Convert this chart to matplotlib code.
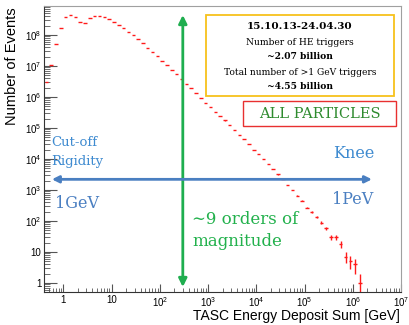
import numpy as np
import matplotlib
matplotlib.use("Agg")
import matplotlib.pyplot as plt
from matplotlib.ticker import LogLocator, FixedLocator, FuncFormatter, NullFormatter
from matplotlib.patches import Rectangle

plt.rcParams["font.family"] = ["Liberation Sans", "DejaVu Sans"]
plt.rcParams["mathtext.fontset"] = "custom"
plt.rcParams["mathtext.rm"] = "Liberation Sans"
plt.rcParams["mathtext.it"] = "Liberation Sans:italic"

# ── Histogram: 0.1-decade bins from 10^-0.4 to 10^6.2 GeV ─────────────────────
bin_edges = np.logspace(-0.4, 6.2, 67)
counts = [
    3.1e6, 1.07e7, 5.1e7, 1.74e8, 3.7e8, 4.5e8, 3.7e8, 2.6e8, 2.45e8, 3.5e8,
    4.2e8, 4.2e8, 3.8e8, 3.3e8, 2.7e8, 2.1e8, 1.7e8, 1.29e8, 9.8e7, 7.2e7,
    5.4e7, 3.9e7, 2.8e7, 2.1e7, 1.5e7, 1.05e7, 7.4e6, 5.5e6, 3.7e6, 2.7e6,
    1.9e6, 1.35e6, 9.3e5, 6.6e5, 4.6e5, 3.3e5, 2.45e5, 1.74e5, 1.23e5, 8.7e4,
    6.0e4, 4.4e4, 3.0e4, 2.0e4, 1.45e4, 1.0e4, 6900, 4800, 3200, 2240,
    1450, 1000, 650, 450, 270, 190, 132, 89, 58, 30,
    30, 18, 7, 5, 4, 1,
]
x_majors = [1, 1e1, 1e2, 1e3, 1e4, 1e5, 1e6, 1e7]
y_majors = [1, 1e1, 1e2, 1e3, 1e4, 1e5, 1e6, 1e7, 1e8]

# annotation anchors (data units)
orders_x = 300          # GeV, vertical "~9 orders" arrow
orders_y = (4.4e8, 0.74)
range_y = 2200          # events, horizontal 1GeV-1PeV arrow
range_x = (0.58, 2.5e6)

counts = np.array(counts)
log_edges = np.log10(bin_edges)
log_c = 0.5 * (log_edges[:-1] + log_edges[1:])
half = 0.5 * (log_edges[1] - log_edges[0]) * 0.72
xc = 10 ** log_c
xlo = xc - 10 ** (log_c - half)
xhi = 10 ** (log_c + half) - xc
yerr = np.sqrt(counts)
ylo = np.minimum(yerr, counts - 1e-3)

fig = plt.figure(figsize=(4.09, 3.25), dpi=100)
ax = fig.add_axes([44 / 409, 1 - 292 / 325, 357 / 409, 286 / 325])

ax.errorbar(xc, counts, xerr=[xlo, xhi], yerr=[ylo, yerr], fmt="none",
            ecolor="#ff1a1a", elinewidth=1.0, capsize=0)

ax.set_xscale("log")
ax.set_yscale("log")
ax.set_xlim(10 ** -0.4, 1e7)
ax.set_ylim(0.51, 8.6e8)


def root_fmt(v, pos):
    e = int(round(np.log10(v)))
    if e == 0:
        return "1"
    if e == 1:
        return "10"
    return r"$10^{%d}$" % e


for axis, majors in ((ax.xaxis, x_majors), (ax.yaxis, y_majors)):
    axis.set_major_locator(FixedLocator(majors))
    axis.set_minor_locator(LogLocator(base=10, subs=np.arange(2, 10), numticks=20))
    axis.set_major_formatter(FuncFormatter(root_fmt))
    axis.set_minor_formatter(NullFormatter())

ax.tick_params(which="both", direction="in", colors="#555555", labelcolor="black",
               labelsize=7, top=False, right=False)
ax.tick_params(axis="y", which="major", length=9, pad=2)
ax.tick_params(axis="y", which="minor", length=4)
ax.tick_params(axis="x", which="major", length=6, pad=2)
ax.tick_params(axis="x", which="minor", length=3)

for s in ("top", "right"):
    ax.spines[s].set_color("#a0a0a0")
for s in ("left", "bottom"):
    ax.spines[s].set_color("#333333")

fig.text(12 / 409, 1 - 7 / 325, "Number of Events", rotation=90,
         ha="center", va="top", fontsize=10.5)
fig.text(400 / 409, 1 - 316 / 325, "TASC Energy Deposit Sum [GeV]",
         ha="right", va="center", fontsize=10)

# arrows
green = "#1fae4f"
blue = "#4a7fc1"
ax.annotate("", xy=(orders_x, orders_y[0]), xytext=(orders_x, orders_y[1]),
            arrowprops=dict(arrowstyle="<|-|>", color=green, lw=2,
                            mutation_scale=12, shrinkA=0, shrinkB=0))
ax.annotate("", xy=(range_x[0], range_y), xytext=(range_x[1], range_y),
            arrowprops=dict(arrowstyle="<|-|>", color=blue, lw=2,
                            mutation_scale=10, shrinkA=0, shrinkB=0))

serif = ["DejaVu Serif", "DejaVu Sans"]
lblue = "#3f8bd0"
ax.text(0.02, 0.521, "Cut-off", transform=ax.transAxes, family=serif,
        fontsize=9.5, color=lblue, va="center")
ax.text(0.02, 0.455, "Rigidity", transform=ax.transAxes, family=serif,
        fontsize=9.5, color=lblue, va="center")
ax.text(0.031, 0.308, "1GeV", transform=ax.transAxes, family=serif,
        fontsize=11.5, color=blue, va="center")
ax.text(0.81, 0.486, "Knee", transform=ax.transAxes, family=serif,
        fontsize=11.5, color=lblue, va="center")
ax.text(0.807, 0.325, "1PeV", transform=ax.transAxes, family=serif,
        fontsize=11.5, color=blue, va="center")
ax.text(0.415, 0.255, "\u223c9 orders of", transform=ax.transAxes, family=serif,
        fontsize=12, color="#22b14c", va="center")
ax.text(0.415, 0.178, "magnitude", transform=ax.transAxes, family=serif,
        fontsize=12, color="#22b14c", va="center")

# info box
ax.add_patch(Rectangle((0.454, 0.685), 0.526, 0.2835, transform=ax.transAxes,
                       facecolor="white", edgecolor="#f7c21b", lw=1.3, zorder=5))
box_lines = [("15.10.13-24.04.30", 0.930, "bold", 7.5),
             ("Number of HE triggers", 0.874, "normal", 6.6),
             ("~2.07 billion", 0.822, "bold", 6.6),
             ("Total number of >1 GeV triggers", 0.769, "normal", 6.6),
             ("~4.55 billion", 0.717, "bold", 6.6)]
for txt, yy, wt, fs in box_lines:
    ax.text(0.717, yy, txt, transform=ax.transAxes, family=serif, fontsize=fs,
            fontweight=wt, ha="center", va="center", zorder=6)

ax.add_patch(Rectangle((0.557, 0.580), 0.429, 0.088, transform=ax.transAxes,
                       facecolor="white", edgecolor="#e83030", lw=1.0, zorder=5))
ax.text(0.772, 0.624, "ALL PARTICLES", transform=ax.transAxes, family=serif,
        fontsize=10.5, color="#2e8b2e", ha="center", va="center", zorder=6)

fig.savefig("out.png", dpi=100)
